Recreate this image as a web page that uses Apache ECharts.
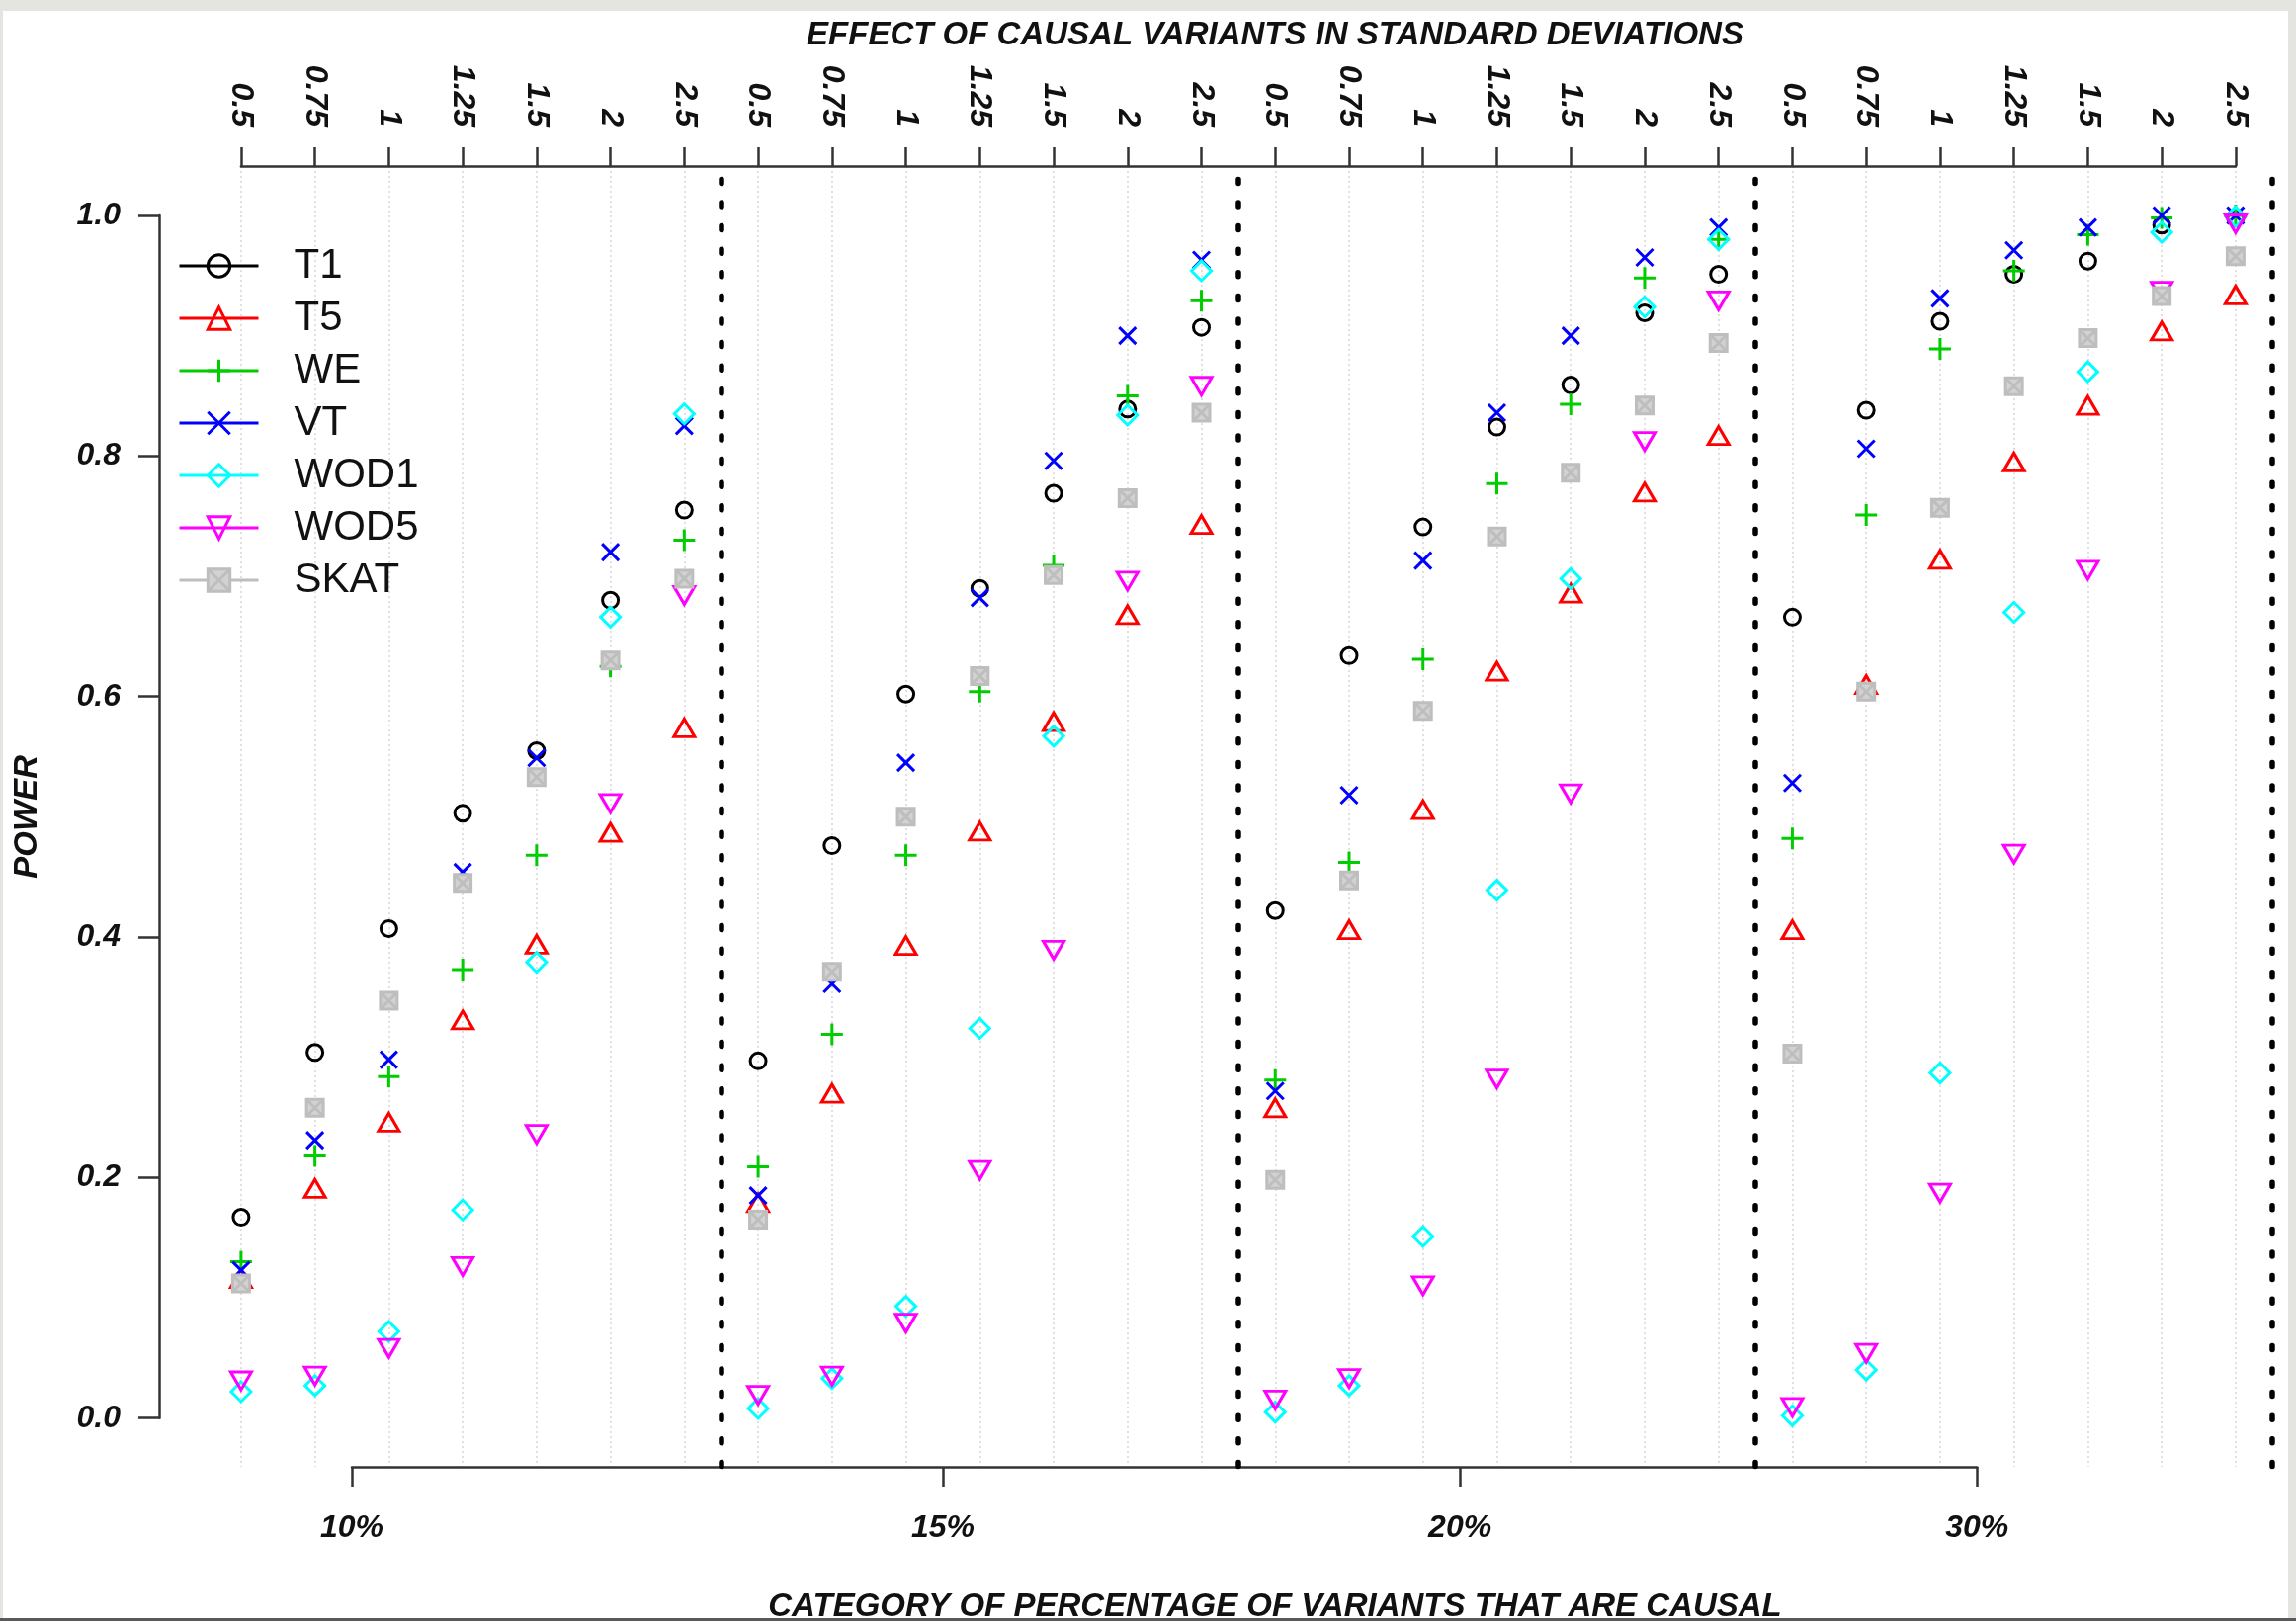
<!DOCTYPE html>
<html>
<head>
<meta charset="utf-8">
<script src="https://cdn.jsdelivr.net/npm/echarts@6/dist/echarts.min.js"></script>
<style>
html, body { margin: 0; padding: 0; background: #ffffff; }
#chart { width: 2323px; height: 1640px; }
</style>
</head>
<body>
<div id="chart"></div>
<script>
// Effect sizes (SD units) on the top axis, repeated inside each causal-percentage group
const effectLabels = ['0.5', '0.75', '1', '1.25', '1.5', '2', '2.5'];
// Percentage of causal variants (bottom axis) and where their ticks sit on the position scale
const groupLabels = ['10%', '15%', '20%', '30%'];
const groupTickPos = [1.5, 9.5, 16.5, 23.5];
// Dotted separators between groups
const groupBreaks = [6.5, 13.5, 20.5, 27.5];

const seriesNames = ['T1', 'T5', 'WE', 'VT', 'WOD1', 'WOD5', 'SKAT'];

// Power per test, 28 positions = 4 groups x 7 effect sizes
const powerT1 = [0.167, 0.304, 0.407, 0.503, 0.555, 0.680, 0.755,
                 0.297, 0.476, 0.602, 0.690, 0.769, 0.839, 0.907,
                 0.422, 0.634, 0.741, 0.824, 0.859, 0.919, 0.951,
                 0.666, 0.838, 0.912, 0.951, 0.962, 0.992, 0.998];
const powerT5 = [0.116, 0.191, 0.246, 0.331, 0.394, 0.487, 0.574,
                 0.179, 0.270, 0.393, 0.488, 0.579, 0.668, 0.743,
                 0.258, 0.406, 0.506, 0.621, 0.686, 0.770, 0.817,
                 0.406, 0.610, 0.714, 0.795, 0.842, 0.904, 0.934];
const powerWE = [0.130, 0.218, 0.284, 0.373, 0.468, 0.625, 0.730,
                 0.209, 0.319, 0.468, 0.604, 0.709, 0.850, 0.929,
                 0.281, 0.462, 0.631, 0.777, 0.843, 0.948, 0.980,
                 0.482, 0.751, 0.889, 0.954, 0.984, 0.998, 1.000];
const powerVT = [0.123, 0.231, 0.298, 0.454, 0.549, 0.720, 0.825,
                 0.185, 0.361, 0.545, 0.682, 0.796, 0.900, 0.963,
                 0.272, 0.518, 0.713, 0.836, 0.900, 0.965, 0.990,
                 0.528, 0.806, 0.931, 0.971, 0.990, 1.000, 1.000];
const powerWOD1 = [0.022, 0.027, 0.072, 0.173, 0.379, 0.666, 0.835,
                   0.008, 0.033, 0.093, 0.324, 0.567, 0.834, 0.954,
                   0.005, 0.027, 0.151, 0.439, 0.698, 0.924, 0.980,
                   0.002, 0.040, 0.287, 0.670, 0.870, 0.986, 0.999];
const powerWOD5 = [0.031, 0.035, 0.058, 0.126, 0.236, 0.511, 0.684,
                   0.019, 0.035, 0.079, 0.206, 0.389, 0.696, 0.858,
                   0.015, 0.033, 0.110, 0.282, 0.519, 0.812, 0.929,
                   0.009, 0.054, 0.187, 0.469, 0.705, 0.937, 0.993];
const powerSKAT = [0.112, 0.258, 0.347, 0.445, 0.533, 0.630, 0.698,
                   0.165, 0.371, 0.500, 0.617, 0.701, 0.765, 0.836,
                   0.198, 0.447, 0.588, 0.733, 0.786, 0.842, 0.894,
                   0.303, 0.604, 0.757, 0.858, 0.898, 0.933, 0.966];

const seriesValues = [powerT1, powerT5, powerWE, powerVT, powerWOD1, powerWOD5, powerSKAT];

// ---- styling ----
const colors = ['#000000', '#FF0000', '#00CD00', '#0000FF', '#00FFFF', '#FF00FF', '#BEBEBE'];
const markers = [
  { symbol: 'circle', size: 16 },
  { symbol: 'triangle', size: [21, 18] },
  { symbol: 'path://M11,0L11,22M0,11L22,11', size: 22 },
  { symbol: 'path://M0,0L22,22M22,0L0,22', size: 17 },
  { symbol: 'diamond', size: 20 },
  { symbol: 'triangle', size: [21, 18], rotate: 180 },
  { symbol: 'path://M0,0L22,0L22,22L0,22Z M0,0L22,22 M22,0L0,22', size: 17, fill: '#d2d2d2' }
];

const FONT = 'Liberation Sans';
const AXIS = '#333333';
const tickFont = { fontFamily: FONT, fontStyle: 'italic', fontWeight: 'bold', fontSize: 32, color: '#111111' };
const titleFont = 'italic bold 33px "Liberation Sans"';

// plot geometry (pixels)
const step = 74.74;          // distance between neighbouring positions
const firstTick = 243.9;     // x of position 0
const xMin = -1.11, xMax = 29.11;
const plotLeft = firstTick + xMin * step;
const plotTop = 169.3, plotHeight = 1314.1;
const yMin = -0.04, yMax = 1.04;
const unitPx = plotHeight / (yMax - yMin);

const chart = echarts.init(document.getElementById('chart'), null, { renderer: 'canvas' });

const hiddenAxis = (gridIndex, extra) => Object.assign({
  gridIndex, type: 'value', show: false, axisLine: { onZero: false }
}, extra || {});

const gridBase = { outerBoundsMode: 'none', containLabel: false };

const option = {
  backgroundColor: '#ffffff',
  animation: false,
  grid: [
    // 0: data area
    Object.assign({ left: plotLeft, top: plotTop, width: (xMax - xMin) * step, height: plotHeight }, gridBase),
    // 1: top effect-size axis (ticks 0..27) with dotted guides
    Object.assign({ left: firstTick, top: 168, width: 27 * step, height: 1316 }, gridBase),
    // 2: bottom group axis
    Object.assign({ left: firstTick + groupTickPos[0] * step, top: 168,
      width: (groupTickPos[groupTickPos.length - 1] - groupTickPos[0]) * step, height: 1316 }, gridBase),
    // 3: power axis, spanning 0..1 only
    Object.assign({ left: plotLeft, top: plotTop + (yMax - 1) * unitPx, height: unitPx, width: 100 }, gridBase)
  ],
  xAxis: [
    hiddenAxis(0, { min: xMin, max: xMax }),
    {
      gridIndex: 1, type: 'value', position: 'top', min: 0, max: 27, interval: 1,
      axisLine: { show: true, onZero: false, lineStyle: { color: AXIS, width: 2.5 } },
      axisTick: { show: true, length: 19, lineStyle: { color: AXIS, width: 2.5 } },
      axisLabel: Object.assign({
        rotate: 90, margin: 40,
        formatter: v => effectLabels[Math.round(v) % effectLabels.length]
      }, tickFont),
      splitLine: { show: true, lineStyle: { color: '#d6d6d6', width: 1.5, type: [2, 3] } }
    },
    {
      gridIndex: 2, type: 'value', position: 'bottom',
      min: groupTickPos[0], max: groupTickPos[groupTickPos.length - 1],
      axisLine: { show: true, onZero: false, lineStyle: { color: AXIS, width: 2.5 } },
      axisTick: { show: true, length: 20, customValues: groupTickPos, lineStyle: { color: AXIS, width: 2.5 } },
      axisLabel: Object.assign({
        margin: 46, customValues: groupTickPos,
        formatter: v => {
          const k = groupTickPos.indexOf(v);
          return k >= 0 ? groupLabels[k] : '';
        }
      }, tickFont),
      splitLine: { show: false }
    },
    hiddenAxis(3, { min: 0, max: 1 })
  ],
  yAxis: [
    hiddenAxis(0, { min: yMin, max: yMax }),
    hiddenAxis(1, { min: 0, max: 1 }),
    hiddenAxis(2, { min: 0, max: 1 }),
    {
      gridIndex: 3, type: 'value', min: 0, max: 1, interval: 0.2,
      axisLine: { show: true, onZero: false, lineStyle: { color: AXIS, width: 2.5 } },
      axisTick: { show: true, length: 21, lineStyle: { color: AXIS, width: 2.5 } },
      axisLabel: Object.assign({ margin: 39, formatter: v => v.toFixed(1) }, tickFont),
      splitLine: { show: false },
      name: 'POWER', nameLocation: 'middle', nameRotate: 90, nameGap: 117,
      nameTextStyle: { fontFamily: FONT, fontStyle: 'italic', fontWeight: 'bold', fontSize: 33, color: '#111111' }
    }
  ],
  legend: {
    orient: 'vertical', left: 180, top: 248, padding: 0,
    itemWidth: 80, itemHeight: 28, itemGap: 11,
    selectedMode: false,
    data: seriesNames,
    lineStyle: { width: 3 },
    itemStyle: { borderWidth: 3 },
    textStyle: { fontFamily: FONT, fontSize: 42, color: '#111111', lineHeight: 40, padding: [0, 0, 0, 31] }
  },
  series: seriesNames.map((name, k) => {
    const m = markers[k];
    const s = {
      name, type: 'line', xAxisIndex: 0, yAxisIndex: 0,
      data: seriesValues[k].map((v, i) => [i, v]),
      symbol: m.symbol, symbolSize: m.size, symbolRotate: m.rotate || 0,
      showSymbol: true, showAllSymbol: true,
      lineStyle: { width: 0, color: colors[k] },
      itemStyle: { color: m.fill || 'rgba(0,0,0,0)', borderColor: colors[k], borderWidth: 3 },
      emphasis: { disabled: true },
      silent: true,
      z: 3 + k
    };
    if (k === 0) {
      s.markLine = {
        silent: true, symbol: ['none', 'none'],
        label: { show: false },
        lineStyle: { color: '#000000', width: 5.5, type: [4, 19.6], cap: 'round' },
        emphasis: { disabled: true },
        data: groupBreaks.map(x => ({ xAxis: x }))
      };
    }
    return s;
  }),
  graphic: [
    {
      type: 'text', x: 1290, y: 36, z: 50,
      style: { text: 'EFFECT OF CAUSAL VARIANTS IN STANDARD DEVIATIONS', align: 'center',
               verticalAlign: 'middle', font: titleFont, fill: '#111111' }
    },
    {
      type: 'text', x: 1290, y: 1626, z: 50,
      style: { text: 'CATEGORY OF PERCENTAGE OF VARIANTS THAT ARE CAUSAL', align: 'center',
               verticalAlign: 'middle', font: titleFont, fill: '#111111' }
    },
    // page frame around the white panel
    { type: 'rect', z: 100, shape: { x: 0, y: 0, width: 2323, height: 11 }, style: { fill: '#e4e4e0' } },
    { type: 'rect', z: 100, shape: { x: 0, y: 0, width: 3, height: 1640 }, style: { fill: '#e4e4e0' } },
    { type: 'rect', z: 100, shape: { x: 2315, y: 0, width: 8, height: 1640 }, style: { fill: '#e4e4e0' } },
    { type: 'rect', z: 100, shape: { x: 0, y: 1637, width: 2323, height: 3 }, style: { fill: '#5a5a5a' } }
  ]
};

chart.setOption(option);
</script>
</body>
</html>
